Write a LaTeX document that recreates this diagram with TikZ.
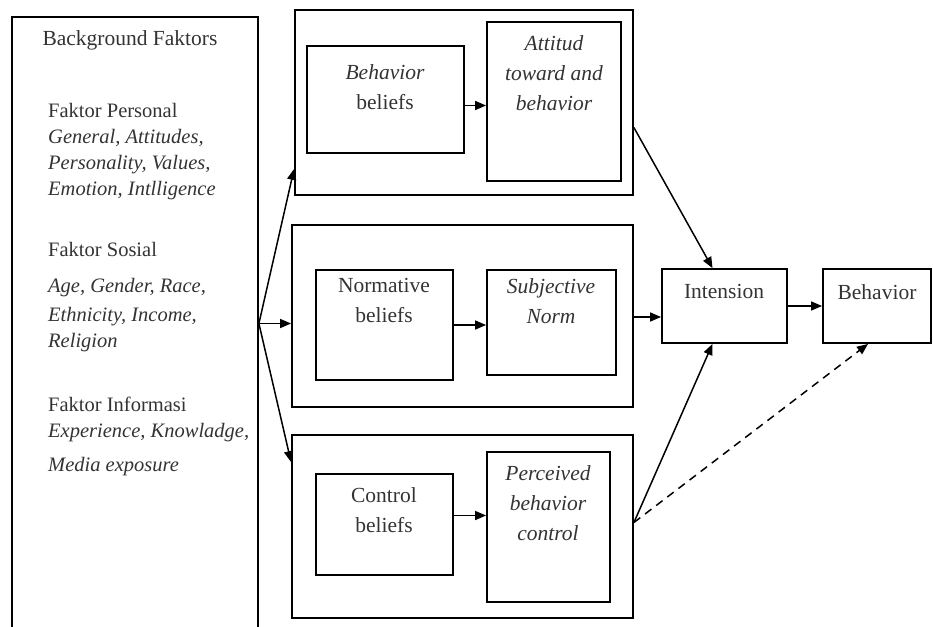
\documentclass[tikz,border=0pt]{standalone}
\usepackage{fontspec}
\setmainfont{Liberation Serif}
\usetikzlibrary{arrows.meta}

\begin{document}
\begin{tikzpicture}[x=1pt,y=-1pt,
		box/.style={draw,line width=1.8pt,inner sep=0pt},
		lbl/.style={anchor=north,align=center,inner sep=0pt,font=\fontsize{21.5}{30}\selectfont,text=black!80},
		txt/.style={anchor=north west,align=left,inner sep=0pt,font=\fontsize{20.5}{26}\selectfont,text=black!80},
		arr/.style={line width=1.5pt,-{Triangle[length=11pt,width=9pt]}}]
			\useasboundingbox (0,0) rectangle (933,626);
			% background factors
			\node[box,minimum width=246pt,minimum height=613pt] (bg) at (135,323.5) {};
			\node[lbl] (bgtitle) at (130,30) {Background Faktors};
			\node[txt] (personal) at (48,103) {Faktor Personal\\ \textit{General, Attitudes,}\\ \textit{Personality, Values,}\\ \textit{Emotion, Intlligence}};
			\node[txt] (sosial) at (48,242) {Faktor Sosial\\[10pt] \textit{Age, Gender, Race,}\\[3pt] \textit{Ethnicity, Income,}\\ \textit{Religion}};
			\node[txt] (informasi) at (48,397) {Faktor Informasi\\ \textit{Experience, Knowladge,}\\[8pt] \textit{Media exposure}};
			% the three groups
			\node[box,minimum width=338pt,minimum height=185pt] (ob1) at (464,102.5) {};
			\node[box,minimum width=341pt,minimum height=182pt] (ob2) at (462.5,316) {};
			\node[box,minimum width=341pt,minimum height=183pt] (ob3) at (462.5,526.5) {};
			\node[box,minimum width=157pt,minimum height=107pt] (bb) at (385.5,99.5) {};
			\node[box,minimum width=134pt,minimum height=159pt] (att) at (554,101.5) {};
			\node[box,minimum width=137pt,minimum height=110pt] (nb) at (384.5,325) {};
			\node[box,minimum width=129pt,minimum height=105pt] (sn) at (551.5,322.5) {};
			\node[box,minimum width=137pt,minimum height=101pt] (cb) at (384.5,524.5) {};
			\node[box,minimum width=123pt,minimum height=150pt] (pbc) at (548.5,527) {};
			\node[lbl] (bbtext) at (385,64) {\textit{Behavior}\\beliefs};
			\node[lbl] (atttext) at (554,35) {\textit{Attitud}\\ \textit{toward and}\\ \textit{behavior}};
			\node[lbl] (nbtext) at (384,278) {Normative\\beliefs};
			\node[lbl] (sntext) at (551,278) {\textit{Subjective}\\ \textit{Norm}};
			\node[lbl] (cbtext) at (384,487) {Control\\beliefs};
			\node[lbl] (pbctext) at (548,465) {\textit{Perceived}\\ \textit{behavior}\\ \textit{control}};
			% intention and behavior
			\node[box,minimum width=125pt,minimum height=74pt] (int) at (724.5,306) {};
			\node[box,minimum width=108pt,minimum height=74pt] (beh) at (877,306) {};
			\node[lbl] (inttext) at (724,284) {Intension};
			\node[lbl] (behtext) at (877,284) {Behavior};
			% arrows
			\coordinate (src) at (bg.east);
			\draw[arr] (src) -- ([yshift=27pt]ob1.south west);
			\draw[arr] (src) -- (src -| ob2.west);
			\draw[arr] (src) -- ([yshift=-28pt]ob3.north west);
			\draw[arr] ([yshift=-6pt]bb.east) -- ([yshift=-6pt]bb.east -| att.west);
			\draw[arr] (nb.east) -- (nb.east -| sn.west);
			\draw[arr] ([yshift=9pt]cb.east) -- ([yshift=9pt]cb.east -| pbc.west);
			\draw[arr] ([yshift=-25pt]ob1.east) -- ([xshift=-12pt]int.north);
			\draw[arr] ([yshift=-11pt]int.west -| ob2.east) -- ([yshift=-11pt]int.west);
			\draw[arr] (int.east) -- (beh.west);
			\coordinate (out) at ([yshift=4pt]ob3.east);
			\draw[arr] (out) -- ([xshift=-12pt]int.south);
			\draw[arr,dashed,dash pattern=on 8pt off 6pt] (out) -- ([xshift=-9pt]beh.south);
		\end{tikzpicture}
\end{document}
